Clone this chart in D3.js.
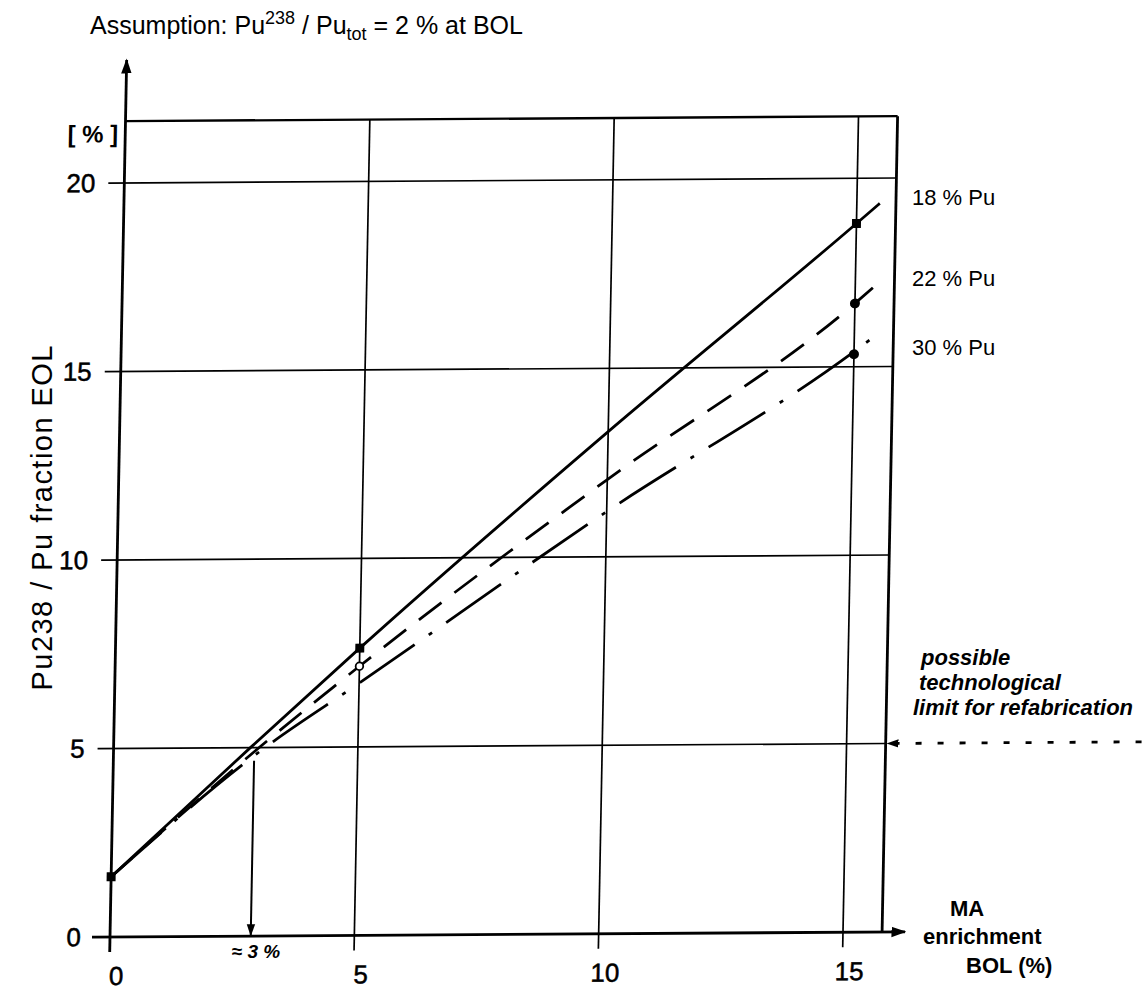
<!DOCTYPE html>
<html>
<head>
<meta charset="utf-8">
<script src="https://cdn.jsdelivr.net/npm/d3@7"></script>
<style>
  body { margin: 0; background: #fff; }
  svg { font-family: "Liberation Sans", Arial, Helvetica, sans-serif; }
</style>
</head>
<body>
<div id="chart"></div>
<script>
// chart values
var xTicks = [0, 5, 10, 15];
var yTicks = [0, 5, 10, 15, 20];
var seriesNames = ["18 % Pu", "22 % Pu", "30 % Pu"];

var pu18 = [[0, 1.6], [2.8, 5.0], [5, 7.62], [10, 13.32], [15, 18.8], [15.47, 19.33]];
var pu22 = [[0, 1.6], [2.98, 5.0], [5, 7.14], [10, 12.05], [15, 16.68], [15.43, 17.17]];
var pu30 = [[0, 1.6], [3.1, 5.0], [5, 6.69], [10, 11.2], [15, 15.4], [15.41, 15.8]];

var pu18Marks = [[0, 1.6], [5, 7.62], [15, 18.8]];
var pu22Open = [[5, 7.14]];
var pu22Marks = [[15, 16.68]];
var pu30Marks = [[15, 15.33]];

var limitValue = 5;      // possible technological limit
var approxEnrich = 2.88; // "≈ 3 %" reading

var width = 1146, height = 993;

var svg = d3.select("#chart").append("svg")
    .attr("width", width)
    .attr("height", height);

var x = d3.scaleLinear().domain([0, 15]).range([110, 843]);
var y = d3.scaleLinear().domain([0, 20]).range([937, 183]);

var xBorder = 15.8, yTop = 21.64;

//arrow markers
var defs = svg.append("defs");
function arrow(id, size) {
    defs.append("marker")
        .attr("id", id)
        .attr("viewBox", "0 0 10 10")
        .attr("refX", 9).attr("refY", 5)
        .attr("markerWidth", size).attr("markerHeight", size)
        .attr("markerUnits", "userSpaceOnUse")
        .attr("orient", "auto")
        .append("path")
        .attr("d", "M0,1.5 L10,5 L0,8.5 Z")
        .attr("fill", "#000");
}
arrow("arr", 15);
arrow("arrSmall", 12);

//the scanned original sits a little skewed on the page
var plot = svg.append("g")
    .attr("transform", "matrix(1,-0.0065,-0.019,1,17.8,0.715)");

var grid = plot.append("g").attr("stroke", "#000").attr("stroke-width", 1.7);

//horizontal grid lines, with tick stubs left of axis
grid.selectAll(".hline")
    .data(yTicks.filter(function (d) { return d > 0; }))
    .enter().append("line")
    .attr("x1", x(0) - 16).attr("x2", x(xBorder))
    .attr("y1", function (d) { return y(d); })
    .attr("y2", function (d) { return y(d); });

//vertical grid lines, stubs below axis
grid.selectAll(".vline")
    .data(xTicks.filter(function (d) { return d > 0; }))
    .enter().append("line")
    .attr("x1", function (d) { return x(d); })
    .attr("x2", function (d) { return x(d); })
    .attr("y1", y(yTop)).attr("y2", y(0) + 15);

//top and right border
grid.append("line")
    .attr("x1", x(0)).attr("x2", x(xBorder))
    .attr("y1", y(yTop)).attr("y2", y(yTop)).attr("stroke-width", 2.4);
grid.append("line")
    .attr("x1", x(xBorder)).attr("x2", x(xBorder))
    .attr("y1", y(yTop)).attr("y2", y(0)).attr("stroke-width", 2.8);

//axes
plot.append("line")
    .attr("x1", x(0)).attr("x2", x(0))
    .attr("y1", y(0) + 15).attr("y2", 60)
    .attr("stroke", "#000").attr("stroke-width", 2.8)
    .attr("marker-end", "url(#arr)");
plot.append("line")
    .attr("x1", x(0) - 18).attr("x2", 905)
    .attr("y1", y(0)).attr("y2", y(0))
    .attr("stroke", "#000").attr("stroke-width", 2.8)
    .attr("marker-end", "url(#arr)");

//tick labels
plot.selectAll(".ytick")
    .data(yTicks)
    .enter().append("text")
    .attr("x", x(0) - 29)
    .attr("y", function (d) { return y(d) + 9; })
    .attr("text-anchor", "end")
    .attr("font-size", 26)
    .attr("stroke", "#000").attr("stroke-width", 0.5)
    .text(function (d) { return d; });

plot.selectAll(".xtick")
    .data(xTicks)
    .enter().append("text")
    .attr("x", function (d) { return x(d) + 7; })
    .attr("y", y(0) + 48)
    .attr("text-anchor", "middle")
    .attr("font-size", 26)
    .attr("stroke", "#000").attr("stroke-width", 0.5)
    .text(function (d) { return d; });

plot.append("text")
    .attr("x", x(0) - 7).attr("y", y(yTop) + 21)
    .attr("text-anchor", "end")
    .attr("font-size", 24)
    .attr("font-weight", "bold")
    .text("[ % ]");

//curves
var line = d3.line()
    .x(function (d) { return x(d[0]); })
    .y(function (d) { return y(d[1]); })
    .curve(d3.curveMonotoneX);

var curves = [
    { data: pu18, dash: null },
    { data: pu22, dash: "28,16" },
    { data: pu30, dash: "66,17,4,17" }
];

plot.selectAll(".curve")
    .data(curves)
    .enter().append("path")
    .attr("class", "curve")
    .attr("d", function (d) { return line(d.data); })
    .attr("fill", "none")
    .attr("stroke", "#000")
    .attr("stroke-width", 2.8)
    .attr("stroke-dasharray", function (d) { return d.dash; });

//point markers
plot.selectAll(".sq")
    .data(pu18Marks)
    .enter().append("rect")
    .attr("x", function (d) { return x(d[0]) - 4.5; })
    .attr("y", function (d) { return y(d[1]) - 4.5; })
    .attr("width", 9).attr("height", 9)
    .attr("fill", "#000");

plot.selectAll(".dot")
    .data(pu22Marks.concat(pu30Marks))
    .enter().append("circle")
    .attr("cx", function (d) { return x(d[0]); })
    .attr("cy", function (d) { return y(d[1]); })
    .attr("r", 5)
    .attr("fill", "#000");

plot.selectAll(".open")
    .data(pu22Open)
    .enter().append("circle")
    .attr("cx", function (d) { return x(d[0]); })
    .attr("cy", function (d) { return y(d[1]); })
    .attr("r", 3.8)
    .attr("fill", "#fff")
    .attr("stroke", "#000")
    .attr("stroke-width", 1.8);

//approx. 3 % arrow
plot.append("line")
    .attr("x1", x(approxEnrich)).attr("x2", x(approxEnrich))
    .attr("y1", y(4.65)).attr("y2", y(0) - 1)
    .attr("stroke", "#000").attr("stroke-width", 2)
    .attr("marker-end", "url(#arrSmall)");

//limit arrow (dotted) on the 5 % level
plot.append("line")
    .attr("x1", 1138).attr("x2", x(xBorder) + 2)
    .attr("y1", y(limitValue)).attr("y2", y(limitValue))
    .attr("stroke", "#000").attr("stroke-width", 2.8)
    .attr("stroke-dasharray", "6,16")
    .attr("marker-end", "url(#arrSmall)");

//title
var title = svg.append("text")
    .attr("x", 90).attr("y", 34)
    .attr("font-size", 25);
title.append("tspan").text("Assumption: Pu");
title.append("tspan").attr("dy", -10).attr("font-size", 18).text("238");
title.append("tspan").attr("dy", 10).text(" / Pu");
title.append("tspan").attr("dy", 6).attr("font-size", 18).text("tot");
title.append("tspan").attr("dy", -6).text(" = 2 % at BOL");

//axis titles
svg.append("text")
    .attr("transform", "translate(52,518) rotate(-90)")
    .attr("text-anchor", "middle")
    .attr("font-size", 29)
    .attr("textLength", 345)
    .attr("lengthAdjust", "spacing")
    .text("Pu238 / Pu fraction EOL");

var xt = svg.append("text")
    .attr("font-size", 22)
    .attr("font-weight", "bold");
[["MA", 950, 916], ["enrichment", 923, 944], ["BOL (%)", 966, 973]].forEach(function (t) {
    xt.append("tspan").attr("x", t[1]).attr("y", t[2]).text(t[0]);
});

//series labels
var labelY = [205, 286, 355];
svg.selectAll(".slabel")
    .data(seriesNames)
    .enter().append("text")
    .attr("x", 912)
    .attr("y", function (d, i) { return labelY[i]; })
    .attr("font-size", 22)
    .text(function (d) { return d; });

//limit annotation
var note = svg.append("text")
    .attr("font-size", 22)
    .attr("font-style", "italic")
    .attr("font-weight", "bold");
[["possible", 921, 665], ["technological", 919, 690], ["limit for refabrication", 913, 715]].forEach(function (t) {
    note.append("tspan").attr("x", t[1]).attr("y", t[2]).text(t[0]);
});

svg.append("text")
    .attr("x", 256).attr("y", 958)
    .attr("text-anchor", "middle")
    .attr("font-size", 19)
    .attr("font-weight", "bold")
    .attr("font-style", "italic")
    .text("≈ 3 %");
</script>
</body>
</html>
